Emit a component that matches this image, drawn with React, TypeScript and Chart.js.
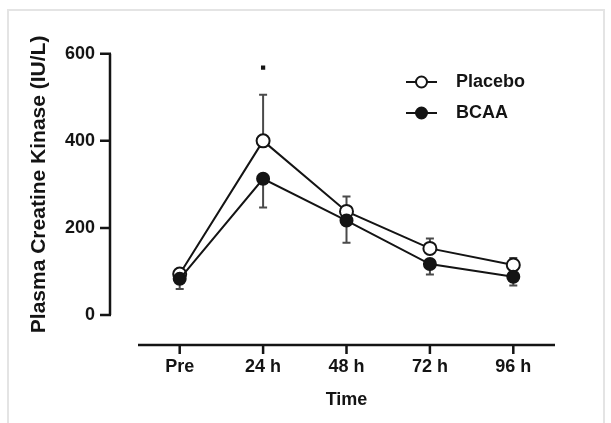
import React, { useEffect, useRef } from "react";
import { Chart, registerables } from "chart.js";

Chart.register(...registerables);

const categories = ["Pre", "24 h", "48 h", "72 h", "96 h"];
const placebo = [94, 400, 238, 153, 115];
const placeboErr = [8, 106, 34, 23, 16];
const bcaa = [83, 313, 217, 117, 88];
const bcaaErr = [23, 66, 51, 24, 20];
const significance: (number | null)[] = [null, 568, null, null, null];
const yTickValues = [0, 200, 400, 600];
const legendLabels = ["Placebo", "BCAA"];

const FONT = "'Liberation Sans', Arial, Helvetica, sans-serif";
const INK = "#141414";

const customPlugin = {
  id: "customAxesAndBars",
  beforeDatasetsDraw(chart: any) {
    const { ctx, scales } = chart;
    const x = scales.x;
    const y = scales.y;
    ctx.save();
    ctx.strokeStyle = "#4a4a4a";
    ctx.lineWidth = 2;
    const cap = 4;
    const bar = (i: number, v: number, e: number) => {
      const px = x.getPixelForValue(i);
      const y0 = y.getPixelForValue(v);
      const y1 = y.getPixelForValue(e);
      ctx.beginPath();
      ctx.moveTo(px, y0);
      ctx.lineTo(px, y1);
      ctx.moveTo(px - cap, y1);
      ctx.lineTo(px + cap, y1);
      ctx.stroke();
    };
    placebo.forEach((v, i) => bar(i, v, v + placeboErr[i]));
    bcaa.forEach((v, i) => bar(i, v, v - bcaaErr[i]));
    ctx.restore();
  },
  afterDraw(chart: any) {
    const { ctx, scales, chartArea } = chart;
    const x = scales.x;
    const y = scales.y;
    ctx.save();
    ctx.strokeStyle = INK;
    ctx.lineWidth = 2.5;
    ctx.lineCap = "butt";
    // y axis
    const ax = chartArea.left - 28;
    ctx.beginPath();
    ctx.moveTo(ax, y.getPixelForValue(0));
    ctx.lineTo(ax, y.getPixelForValue(600));
    yTickValues.forEach((t) => {
      const py = y.getPixelForValue(t);
      ctx.moveTo(ax + 1, py);
      ctx.lineTo(ax - 10, py);
    });
    ctx.stroke();
    // x axis
    const ay = chartArea.bottom + 30;
    ctx.beginPath();
    ctx.moveTo(chartArea.left, ay);
    ctx.lineTo(chartArea.right, ay);
    categories.forEach((_, i) => {
      const px = x.getPixelForValue(i);
      ctx.moveTo(px, ay);
      ctx.lineTo(px, ay + 9);
    });
    ctx.stroke();

    // legend
    const items = [
      { label: legendLabels[0], y: 82, fill: "#ffffff" },
      { label: legendLabels[1], y: 113, fill: INK },
    ];
    items.forEach((it) => {
      ctx.strokeStyle = INK;
      ctx.lineWidth = 2;
      ctx.beginPath();
      ctx.moveTo(406, it.y);
      ctx.lineTo(437, it.y);
      ctx.stroke();
      ctx.beginPath();
      ctx.arc(421.5, it.y, 5.5, 0, Math.PI * 2);
      ctx.fillStyle = it.fill;
      ctx.fill();
      ctx.stroke();
      ctx.fillStyle = INK;
      ctx.font = `bold 18px ${FONT}`;
      ctx.textBaseline = "middle";
      ctx.textAlign = "left";
      ctx.fillText(it.label, 456, it.y);
    });
    ctx.restore();
  },
};

export default function App() {
  const ref = useRef<HTMLCanvasElement | null>(null);

  useEffect(() => {
    if (!ref.current) return;
    const chart = new Chart(ref.current, {
      type: "line",
      data: {
        labels: categories,
        datasets: [
          {
            label: "BCAA",
            data: bcaa,
            order: 0,
            borderColor: INK,
            borderWidth: 2,
            backgroundColor: INK,
            pointBackgroundColor: INK,
            pointBorderColor: INK,
            pointBorderWidth: 2,
            pointRadius: 6,
            tension: 0,
          },
          {
            label: "Placebo",
            data: placebo,
            order: 1,
            borderColor: INK,
            borderWidth: 2,
            backgroundColor: "#ffffff",
            pointBackgroundColor: "#ffffff",
            pointBorderColor: INK,
            pointBorderWidth: 2,
            pointRadius: 6.5,
            tension: 0,
          },
          {
            label: "*",
            data: significance,
            order: 2,
            showLine: false,
            pointStyle: "rect",
            pointRadius: 3,
            pointBackgroundColor: INK,
            pointBorderColor: INK,
            borderWidth: 0,
          },
        ],
      },
      options: {
        animation: false,
        responsive: false,
        maintainAspectRatio: false,
        layout: { padding: { top: 50, right: 56, left: 0, bottom: 0 } },
        plugins: {
          legend: { display: false },
          tooltip: { enabled: false },
        },
        scales: {
          x: {
            offset: true,
            grid: { display: false, drawTicks: false },
            border: { display: false },
            ticks: {
              padding: 41,
              color: INK,
              font: { family: FONT, size: 18, weight: "bold" },
            },
            title: {
              display: true,
              text: "Time",
              color: INK,
              font: { family: FONT, size: 18, weight: "bold" },
              padding: { top: 0, bottom: 12 },
            },
            afterFit: (s: any) => {
              s.height = 108;
            },
          },
          y: {
            min: 0,
            max: 600,
            grid: { display: false, drawTicks: false },
            border: { display: false },
            ticks: {
              stepSize: 200,
              padding: 43,
              color: INK,
              font: { family: FONT, size: 18, weight: "bold" },
            },
            title: {
              display: true,
              text: "Plasma Creatine Kinase (IU/L)",
              color: INK,
              font: { family: FONT, size: 21, weight: "bold" },
              padding: { top: 27, bottom: 0 },
            },
            afterFit: (s: any) => {
              s.width = 138;
            },
          },
        },
      },
      plugins: [customPlugin],
    });
    return () => chart.destroy();
  }, []);

  return (
    <div style={{ position: "absolute", left: 0, top: 0, width: 611, height: 423, background: "#fff" }}>
      <div
        style={{
          position: "absolute",
          left: 7,
          top: 9,
          width: 598,
          height: 420,
          borderTop: "2px solid #e4e4e4",
          borderLeft: "2px solid #e4e4e4",
          borderRight: "2px solid #e4e4e4",
          boxSizing: "border-box",
        }}
      />
      <canvas ref={ref} width={611} height={423} style={{ position: "absolute", left: 0, top: 0, width: 611, height: 423 }} />
    </div>
  );
}
